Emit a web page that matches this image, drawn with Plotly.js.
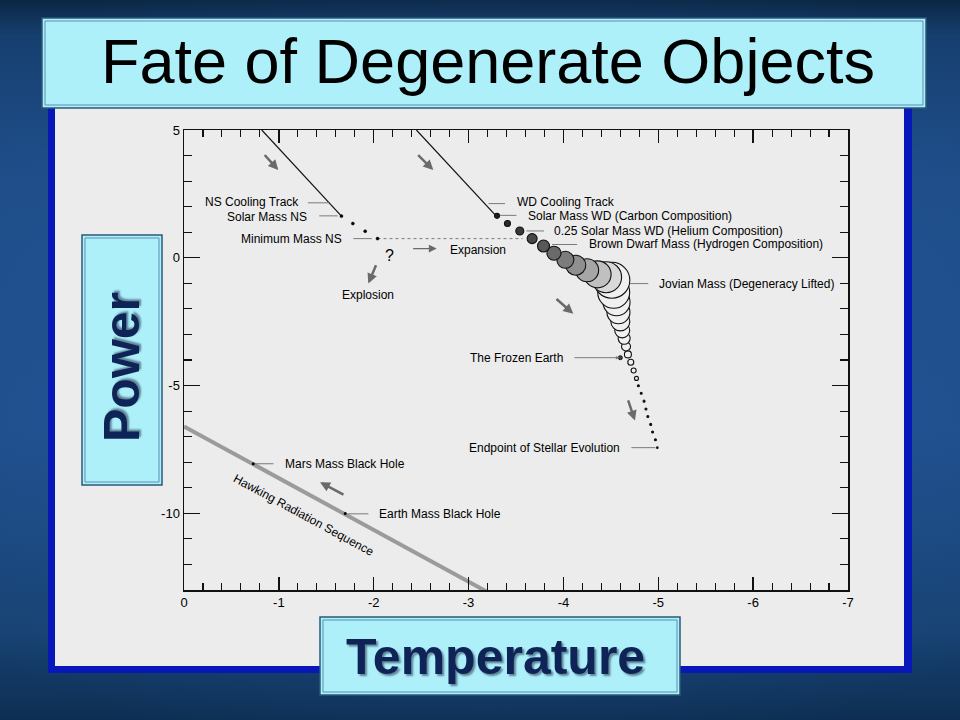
<!DOCTYPE html>
<html>
<head>
<meta charset="utf-8">
<script src="https://cdn.plot.ly/plotly-3.0.1.min.js"></script>
<style>
html,body{margin:0;padding:0;background:#123a66;}
#chart{width:960px;height:720px;
background:
 radial-gradient(ellipse 70% 60% at 50% 50%, rgba(40,90,160,0.55) 0%, rgba(30,78,140,0.0) 100%),
 linear-gradient(to bottom,#0b2744 0%,#163f70 5%,#1e4d88 25%,#1f4f8c 60%,#174272 88%,#0d2e52 100%);}
</style>
</head>
<body>
<div id="chart"></div>
<script>
// ---------------- data ----------------
const nsTrackX = [-0.82, -1.66];
const nsTrackY = [5.0, 1.63];
const nsDotsX = [-1.66, -1.78, -1.91, -2.04];
const nsDotsY = [1.63, 1.34, 1.04, 0.75];
const expansionX = [-2.04, -3.57];
const expansionY = [0.75, 0.75];
const wdTrackX = [-2.45, -3.29];
const wdTrackY = [5.0, 1.64];

// degenerate-object sequence (white dwarf -> brown dwarf -> jovian -> earth -> endpoint)
const chainX = [-3.30,-3.41,-3.54,-3.67,-3.79,-3.90,-4.02,-4.13,-4.25,-4.36,-4.45,-4.51,
                -4.53,-4.56,-4.58,-4.60,-4.62,-4.64,-4.66,-4.68,-4.71,-4.74,-4.77,
                -4.79,-4.82,-4.85,-4.87,-4.89,-4.92,-4.94,-4.97,-4.99];
const chainY = [1.64,1.34,1.05,0.75,0.46,0.18,-0.08,-0.29,-0.49,-0.65,-0.76,-0.88,
                -1.35,-1.74,-2.13,-2.49,-2.84,-3.15,-3.47,-3.78,-4.09,-4.41,-4.72,
                -5.01,-5.30,-5.61,-5.92,-6.21,-6.52,-6.82,-7.12,-7.43];
const chainSize = [5,6,8,10,12,14,17,20,23,27,31,36,
                   32,27,23,19,15,12,9,7,6,5,4,
                   2,2,2,2,2,2,2,2,1.5];
const frozenEarthX = [-4.60];
const frozenEarthY = [-3.91];

const hawkingX = [0, -3.2];
const hawkingY = [-6.6, -13.08];
const blackHoleX = [-0.73, -1.70];
const blackHoleY = [-8.06, -10.01];

const xTickVals = [0,-1,-2,-3,-4,-5,-6,-7];
const xTickText = ['0','-1','-2','-3','-4','-5','-6','-7'];
const yTickVals = [5,0,-5,-10];
const yTickText = ['5','0','-5','-10'];

const titleText = 'Fate of Degenerate Objects';
const xTitleText = 'Temperature';
const yTitleText = 'Power';

// labels with leader lines
const labelText = ['NS Cooling Track','Solar Mass NS','Minimum Mass NS','WD Cooling Track',
  'Solar Mass WD (Carbon Composition)','0.25 Solar Mass WD (Helium Composition)',
  'Brown Dwarf Mass (Hydrogen Composition)','Jovian Mass (Degeneracy Lifted)',
  'The Frozen Earth','Endpoint of Stellar Evolution','Mars Mass Black Hole','Earth Mass Black Hole'];
const freeText = ['?','Explosion','Expansion','Hawking Radiation Sequence'];

// ---------------- layout helpers ----------------
const FONT = 'Liberation Sans, Arial, Helvetica, sans-serif';
const PL = 184, PR = 848, PT = 130, PB = 590;
const px = v => (v - PL) / (PR - PL);
const py = v => (PB - v) / (PB - PT);

const labelGeom = [
  {tip:[-1.53,2.15], tail:[-1.29,2.15], side:'right', gap:6, dy:1},
  {tip:[-1.62,1.64], tail:[-1.41,1.64], side:'right', gap:10, dy:-1},
  {tip:[-1.98,0.75], tail:[-1.77,0.75], side:'right', gap:9, dy:0},
  {tip:[-3.21,2.12], tail:[-3.40,2.12], side:'left', gap:9, dy:1.5},
  {tip:[-3.33,1.66], tail:[-3.52,1.66], side:'left', gap:9, dy:-1},
  {tip:[-3.61,1.05], tail:[-3.81,1.05], side:'left', gap:8, dy:0},
  {tip:[-3.88,0.52], tail:[-4.16,0.52], side:'left', gap:9, dy:0},
  {tip:[-4.70,-1.01], tail:[-4.91,-1.01], side:'left', gap:8, dy:0},
  {tip:[-4.59,-3.91], tail:[-4.10,-3.91], side:'right', gap:9, dy:0, head:true},
  {tip:[-4.97,-7.43], tail:[-4.70,-7.43], side:'right', gap:9, dy:0},
  {tip:[-0.75,-8.06], tail:[-0.96,-8.06], side:'left', gap:9, dy:0},
  {tip:[-1.73,-10.02], tail:[-1.96,-10.02], side:'left', gap:8, dy:0}
];
const freeGeom = [
  {x:-2.17, y:0.10, size:16, angle:0},
  {x:-1.94, y:-1.47, size:12, angle:0},
  {x:-3.10, y:0.32, size:12, angle:0},
  {x:-1.26, y:-10.05, size:12, angle:28.5}
];
const dirArrows = [
  {tail:[-0.836,4.08], head:[-0.994,3.43], w:2.5},
  {tail:[-2.453,4.08], head:[-2.628,3.43], w:2.5},
  {tail:[-2.031,-0.23], head:[-1.943,-1.01], w:2.5},
  {tail:[-2.400,0.36], head:[-2.664,0.36], w:1.3},
  {tail:[-3.911,-1.56], head:[-4.104,-2.19], w:2.5},
  {tail:[-4.677,-5.52], head:[-4.754,-6.37], w:2.5},
  {tail:[-1.697,-9.30], head:[-1.434,-8.78], w:2.5}
];

// ---------------- traces ----------------
const chainFillSeq = ['#1e1e1e','#2a2a2a','#383838','#474747','#585858','#6a6a6a','#7c7c7c','#8f8f8f','#a6a6a6','#c0c0c0','#d9d9d9'];
const chainFill = chainX.map((_, i) => i < chainFillSeq.length ? chainFillSeq[i] : (i < 23 ? '#f0f0f0' : '#000000'));
const order = chainX.map((_, i) => i).reverse(); // earlier circles drawn on top

const traces = [
  {x: hawkingX, y: hawkingY, mode:'lines', line:{color:'#9b9b9b', width:4}, hoverinfo:'skip'},
  {x: nsTrackX, y: nsTrackY, mode:'lines', line:{color:'#111', width:1.2}, hoverinfo:'skip'},
  {x: wdTrackX, y: wdTrackY, mode:'lines', line:{color:'#111', width:1.2}, hoverinfo:'skip'},
  {x: expansionX, y: expansionY, mode:'lines', line:{color:'#7a7a7a', width:1, dash:'dot'}, hoverinfo:'skip'},
  {x: nsDotsX, y: nsDotsY, mode:'markers', marker:{size:3, color:'#000', line:{width:0.5,color:'#000'}}, hoverinfo:'skip'},
  {x: order.map(i => chainX[i]), y: order.map(i => chainY[i]), mode:'markers',
   marker:{size: order.map(i => chainSize[i]), color: order.map(i => chainFill[i]),
           opacity:1, line:{color:'#111', width:1.1}}, hoverinfo:'skip'},
  {x: frozenEarthX, y: frozenEarthY, mode:'markers', marker:{size:4, color:'#444', line:{color:'#111', width:1}}, hoverinfo:'skip'},
  {x: blackHoleX, y: blackHoleY, mode:'markers', marker:{size:3, color:'#000'}, hoverinfo:'skip'}
];

// ---------------- annotations ----------------
const annotations = [];
labelText.forEach((t, i) => {
  const g = labelGeom[i];
  annotations.push({
    text:'', xref:'x', yref:'y', axref:'x', ayref:'y',
    x: g.tip[0], y: g.tip[1], ax: g.tail[0], ay: g.tail[1],
    showarrow:true, arrowhead: g.head ? 2 : 0, arrowsize: 0.7, arrowwidth: 1, arrowcolor:'#7a7a7a'
  });
  annotations.push({
    text: t, xref:'x', yref:'y', x: g.tail[0], y: g.tail[1], showarrow:false,
    xanchor: g.side, yanchor:'middle', xshift: g.side === 'right' ? -g.gap : g.gap, yshift: g.dy,
    borderpad:0, font:{family:FONT, size:12, color:'#000'}
  });
});
freeText.forEach((t, i) => {
  const g = freeGeom[i];
  annotations.push({text:t, xref:'x', yref:'y', x:g.x, y:g.y, showarrow:false,
    textangle:g.angle, xanchor:'center', yanchor:'middle', borderpad:0,
    font:{family:FONT, size:g.size, color:'#000'}});
});
dirArrows.forEach(a => {
  annotations.push({text:'', xref:'x', yref:'y', axref:'x', ayref:'y',
    x:a.head[0], y:a.head[1], ax:a.tail[0], ay:a.tail[1],
    showarrow:true, arrowhead:2, arrowsize: a.w > 2 ? 0.8 : 1.2, arrowwidth:a.w, arrowcolor:'#6a6a6a'});
});
// slide titles
annotations.push({text:titleText, xref:'paper', yref:'paper', x:px(488), y:py(61),
  xanchor:'center', yanchor:'middle', showarrow:false,
  font:{family:FONT, size:63, color:'#000'}});
annotations.push({text:'<b>'+yTitleText+'</b>', xref:'paper', yref:'paper', x:px(122), y:py(367),
  xanchor:'center', yanchor:'middle', showarrow:false, textangle:-90,
  font:{family:FONT, size:50, color:'#0f2456', shadow:'2px 2px 2px rgba(0,0,30,0.45)'}});
annotations.push({text:'<b>'+xTitleText+'</b>', xref:'paper', yref:'paper', x:px(495), y:py(657),
  xanchor:'center', yanchor:'middle', showarrow:false,
  font:{family:FONT, size:50, color:'#0f2456', shadow:'2px 2px 2px rgba(0,0,30,0.45)'}});

// ---------------- slide decoration shapes ----------------
const rect = (x0,y0,x1,y1,fill,lineColor,lw) => ({type:'rect', xref:'paper', yref:'paper', layer:'below',
  x0:px(x0), x1:px(x1), y0:py(y1), y1:py(y0), fillcolor:fill,
  line:{color:lineColor || 'rgba(0,0,0,0)', width: lw || 0}});
const shapes = [
  rect(48,100,912,673,'#0818b8'),
  rect(55,100,904,666,'#ececec'),
  rect(42,18,926,108,'#adf0fa','#2a5a7a',1.5),
  rect(45,21,923,105,'rgba(0,0,0,0)','#5b8fb0',1),
  rect(82,235,162,485,'#adf0fa','#2a5a7a',1.5),
  rect(85,238,159,482,'rgba(0,0,0,0)','#5b8fb0',1),
  rect(320,617,680,695,'#adf0fa','#2a5a7a',1.5),
  rect(323,620,677,692,'rgba(0,0,0,0)','#5b8fb0',1)
];

const axisCommon = {showline:true, mirror:'allticks', linecolor:'#111', linewidth:1.5,
  ticks:'inside', tickcolor:'#111', tickwidth:1.3, showgrid:false, zeroline:false,
  tickmode:'array', tickfont:{family:FONT, size:13, color:'#000'}, fixedrange:true};

const layout = {
  width:960, height:720, autosize:false,
  margin:{l:PL, r:960-PR, t:PT, b:720-PB, pad:0},
  paper_bgcolor:'rgba(0,0,0,0)', plot_bgcolor:'rgba(0,0,0,0)',
  showlegend:false,
  xaxis: Object.assign({}, axisCommon, {range:[0,-7], tickvals:xTickVals, ticktext:xTickText, ticklen:13,
     minor:{tickmode:'linear', tick0:0, dtick:0.2, ticks:'inside', ticklen:7, tickwidth:1.1, tickcolor:'#111'}}),
  yaxis: Object.assign({}, axisCommon, {range:[-13,5], tickvals:yTickVals, ticktext:yTickText, ticklen:16,
     minor:{tickmode:'linear', tick0:0, dtick:1, ticks:'inside', ticklen:8, tickwidth:1.1, tickcolor:'#111'}}),
  shapes: shapes,
  annotations: annotations
};

Plotly.newPlot('chart', traces, layout, {displayModeBar:false, staticPlot:true});
</script>
</body>
</html>
